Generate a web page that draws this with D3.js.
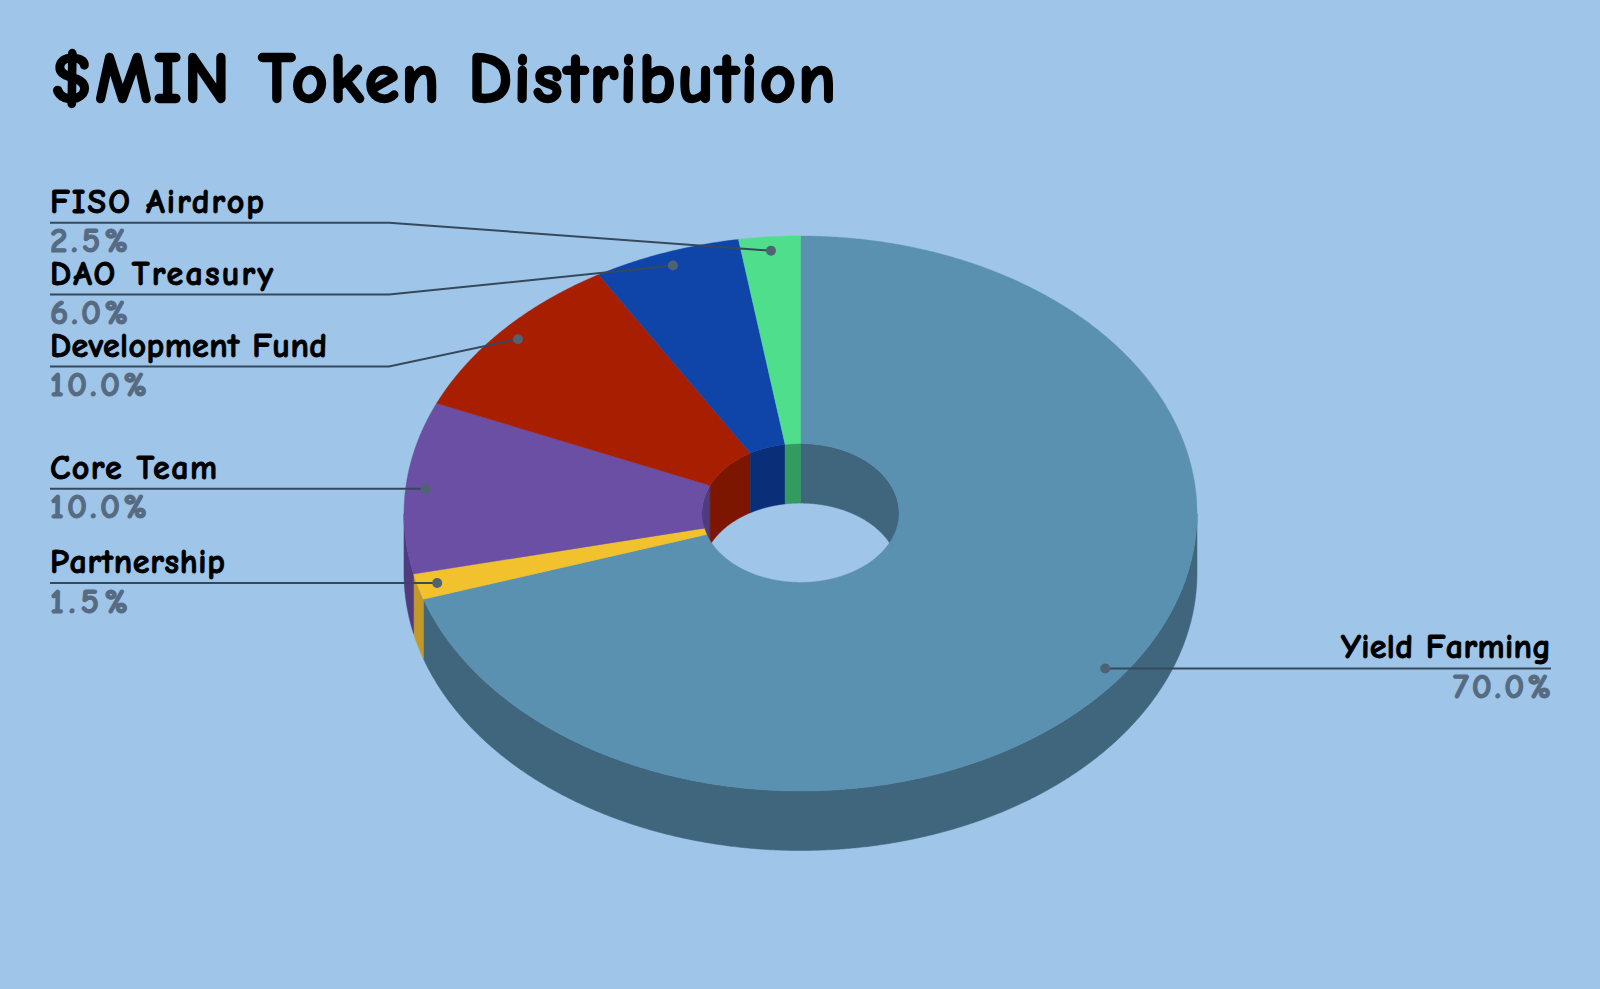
<!DOCTYPE html>
<html><head><meta charset="utf-8">
<script src="https://cdn.jsdelivr.net/npm/d3@7/dist/d3.min.js"></script>
<style>html,body{margin:0;padding:0;background:#9fc5e8;overflow:hidden}svg{display:block}</style>
</head><body><svg id="c" width="1600" height="989"></svg>
<script>
const categories = ["Yield Farming","Partnership","Core Team","Development Fund","DAO Treasury","FISO Airdrop"];
const values = [70.0,1.5,10.0,10.0,6.0,2.5];
const topColors = ["#5a91b0","#f2c12e","#6a4fa5","#a81e00","#0f44a8","#4fde8c"];
const wallColors = ["#3f667c","#c2982a","#4f3b7d","#7d1600","#0a2e78","#329b60"];
const titleText = "$MIN Token Distribution";
const labelWidths = [210,175,167,277,223,214];
const percentWidths = [98,78,97,97,78,78];

const cx=800.5, cy=513.5, R=396.5, Ry=277.5, r=98.5, ry=69.4, icy=513, depth=59.5;
const TAU=Math.PI*2, svg=d3.select("#c");
svg.append("rect").attr("width",1600).attr("height",989).attr("fill","#9fc5e8");
const arcs=d3.pie().sort(null).value(d=>d)(values);
const outer=(a,d=0)=>[cx+R*Math.sin(a),cy-Ry*Math.cos(a)+d];
const inner=(a,d=0)=>[cx+r*Math.sin(a),icy-ry*Math.cos(a)+d];
const line=d3.line();
const sweep=(a0,a1,f,d=0)=>{const n=Math.max(2,Math.ceil(Math.abs(a1-a0)/0.005));
  return d3.range(n+1).map(i=>f(a0+(a1-a0)*i/n,d));};
// inner walls, visible on the far half of the hole
arcs.forEach((s,i)=>{
  [[s.startAngle,Math.min(s.endAngle,TAU/4)],[Math.max(s.startAngle,TAU*3/4),s.endAngle]].forEach(([a,b])=>{
    if(b<=a)return;
    svg.append("path").attr("fill",wallColors[i]).attr("stroke",wallColors[i]).attr("stroke-width",.5)
      .attr("d",line([...sweep(a,b,inner),...sweep(b,a,inner,depth)])+"Z");
  });
});
// outer walls, visible on the near half
arcs.forEach((s,i)=>{
  const a=Math.max(s.startAngle,TAU/4),b=Math.min(s.endAngle,TAU*3/4);
  if(b<=a)return;
  svg.append("path").attr("fill",wallColors[i]).attr("stroke",wallColors[i]).attr("stroke-width",.5)
    .attr("d",line([...sweep(a,b,outer),...sweep(b,a,outer,depth)])+"Z");
});
// top faces
arcs.forEach((s,i)=>{
  svg.append("path").attr("fill",topColors[i]).attr("stroke",topColors[i]).attr("stroke-width",.4)
    .attr("d",line([...sweep(s.startAngle,s.endAngle,outer),...sweep(s.endAngle,s.startAngle,inner)])+"Z");
});
// title
const font='"Comic Sans MS","Comic Neue","Noto Sans",sans-serif';
svg.append("text").attr("x",51).attr("y",102).attr("font-family",font).attr("font-weight",700)
  .attr("font-size",70).attr("fill","#000").attr("stroke","#000").attr("stroke-width",2.4)
  .attr("textLength",785).attr("lengthAdjust","spacing").text(titleText);
// leaders and labels
const stackedY=k=>222.7+71.9*k;
arcs.forEach((s,i)=>{
  const mid=(s.startAngle+s.endAngle)/2;
  const [px,py]=[cx+.95*R*Math.sin(mid),cy-.95*Ry*Math.cos(mid)];
  const right=Math.sin(mid)>0;
  const stacked=i>=3;
  const ly=stacked?stackedY(5-i):py;
  const x0=right?1551:50;
  const pts=stacked?[[x0,ly],[389,ly],[px,py]]:[[x0,ly],[px,py]];
  svg.append("path").attr("d",line(pts)).attr("fill","none").attr("stroke","#36495c").attr("stroke-width",2);
  svg.append("circle").attr("cx",px).attr("cy",py).attr("r",5).attr("fill","#4f6375");
  svg.append("text").attr("x",x0).attr("y",ly-10).attr("text-anchor",right?"end":"start")
    .attr("font-family",font).attr("font-weight",700).attr("font-size",34).attr("fill","#000")
    .attr("stroke","#000").attr("stroke-width",.9)
    .attr("textLength",labelWidths[i]).attr("lengthAdjust","spacing").text(categories[i]);
  svg.append("text").attr("x",x0).attr("y",ly+29.5).attr("text-anchor",right?"end":"start")
    .attr("font-family",font).attr("font-weight",700).attr("font-size",35).attr("fill","#566b82")
    .attr("stroke","#566b82").attr("stroke-width",1.1)
    .attr("textLength",percentWidths[i]).attr("lengthAdjust","spacing")
    .text(values[i].toFixed(1)+"%");
});
</script></body></html>
